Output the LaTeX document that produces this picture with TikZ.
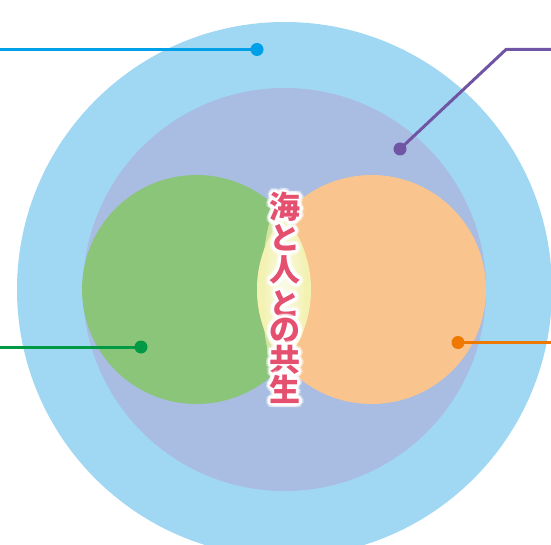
\documentclass[tikz,border=0pt]{standalone}
\usepackage{fontspec}
\newfontfamily\jpfont{Noto Sans CJK JP}
\usetikzlibrary{calc}
\definecolor{outerblue}{HTML}{A0D8F4}
\definecolor{innerlav}{HTML}{A9BCE2}
\definecolor{greenc}{HTML}{8BC57A}
\definecolor{orangec}{HTML}{F9C48E}
\definecolor{lensc}{HTML}{F3F2B2}
\definecolor{textc}{HTML}{E5506E}
\definecolor{lblue}{HTML}{00A0E9}
\definecolor{lpurple}{HTML}{7055A5}
\definecolor{lgreen}{HTML}{009944}
\definecolor{lorange}{HTML}{EE7800}
\tikzset{
  leader/.style={line width=3pt},
  dotc/.style={circle, fill=#1, minimum size=13pt, inner sep=0pt},
  glyph/.style={font=\jpfont\bfseries\fontsize{31}{31}\selectfont, inner sep=0pt},
}
\newcommand{\glowchar}[3]{%
  \foreach \a in {0,22.5,...,337.5}{
    \node[glyph, text=white, opacity=0.35] at ($(#1,#2)+(\a:4.5)$) {#3};
    \node[glyph, text=white] at ($(#1,#2)+(\a:2.5)$) {#3};
  }
  \node[glyph, text=textc] at (#1,#2) {#3};
}
\begin{document}
\begin{tikzpicture}[x=1pt,y=-1pt]
\useasboundingbox (0,0) rectangle (551,545);
\begin{scope}
\clip (0,0) rectangle (551,545);
\fill[outerblue] (284.5,289.5) circle (267.5);
\fill[innerlav] (284.5,289.5) circle (201.5);
\fill[greenc] (196.5,289.5) circle (114.5);
\fill[orangec] (371.5,289.5) circle (114.5);
\begin{scope}
\clip (196.5,289.5) circle (114.5);
\fill[lensc] (371.5,289.5) circle (114.5);
\shade[inner color=white, outer color=lensc, opacity=0.7] (284,290) ellipse (22 and 90);
\end{scope}
\end{scope}
% leaders
\node[dotc=lblue] (db) at (257,49.5) {};
\coordinate (eb) at (0,49.5);
\draw[leader, lblue] (eb) -- (db.center);
\node[dotc=lpurple] (dp) at (400,149) {};
\coordinate (cp) at (506,49.5);
\coordinate (ep) at (551,49.5);
\draw[leader, lpurple] (ep) -- (cp) -- (dp.center);
\node[dotc=lgreen] (dg) at (141,347) {};
\coordinate (eg) at (0,347);
\draw[leader, lgreen] (eg) -- (dg.center);
\node[dotc=lorange] (do) at (458,342.5) {};
\coordinate (eo) at (551,342.5);
\draw[leader, lorange] (eo) -- (do.center);
% title
\glowchar{285}{207}{海}
\glowchar{285}{238}{と}
\glowchar{285}{270}{人}
\glowchar{285}{304}{と}
\glowchar{285}{331}{の}
\glowchar{285}{360}{共}
\glowchar{285}{389}{生}
\end{tikzpicture}
\end{document}
